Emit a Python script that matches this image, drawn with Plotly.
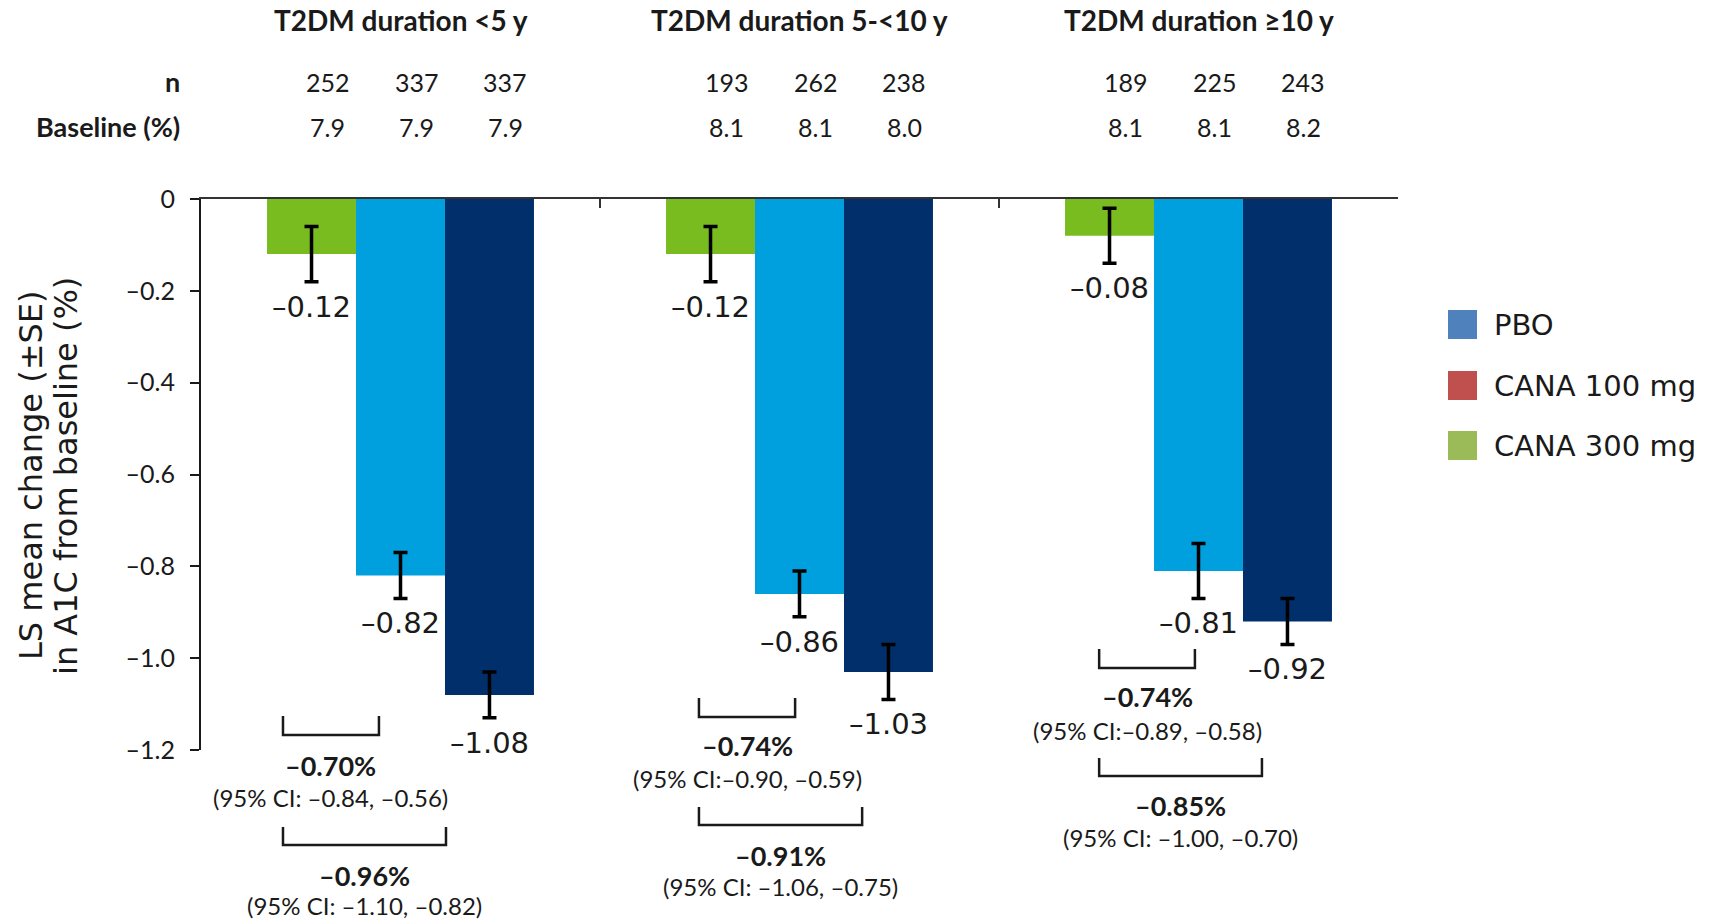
import plotly.graph_objects as go

# ---- data ---------------------------------------------------------------
groups = ["T2DM duration <5 y", "T2DM duration 5-<10 y", "T2DM duration \u226510 y"]
arms = ["PBO", "CANA 100 mg", "CANA 300 mg"]

pbo_change = [-0.12, -0.12, -0.08]
pbo_se = [0.06, 0.06, 0.06]
cana100_change = [-0.82, -0.86, -0.81]
cana100_se = [0.05, 0.05, 0.06]
cana300_change = [-1.08, -1.03, -0.92]
cana300_se = [0.05, 0.06, 0.05]

n_pbo = [252, 193, 189]
n_cana100 = [337, 262, 225]
n_cana300 = [337, 238, 243]
baseline_pbo = [7.9, 8.1, 8.1]
baseline_cana100 = [7.9, 8.1, 8.1]
baseline_cana300 = [7.9, 8.0, 8.2]

diff_cana100 = ["\u20130.70%", "\u20130.74%", "\u20130.74%"]
ci_cana100 = ["(95% CI: \u20130.84, \u20130.56)", "(95% CI:\u20130.90, \u20130.59)", "(95% CI:\u20130.89, \u20130.58)"]
diff_cana300 = ["\u20130.96%", "\u20130.91%", "\u20130.85%"]
ci_cana300 = ["(95% CI: \u20131.10, \u20130.82)", "(95% CI: \u20131.06, \u20130.75)", "(95% CI: \u20131.00, \u20130.70)"]

y_ticks = [0, -0.2, -0.4, -0.6, -0.8, -1.0, -1.2]
y_title_lines = ["LS mean change (\u00b1SE)", "in A1C from baseline (%)"]

# ---- styling ------------------------------------------------------------
bar_colors = ["#78BC20", "#00A0DF", "#002F6C"]
legend_colors = ["#4F81BD", "#C0504D", "#9BBB59"]
INK = "#1a1a1a"
VERDANA = "DejaVu Sans, Verdana, sans-serif"
CALIBRI = "Lato, Carlito, Calibri, sans-serif"

W, H = 1711, 922
ML, MR, MT, MB = 201, 313, 199, 172
BARGAP = 0.331
BAR_W = (1 - BARGAP) / 3


def px_x(px):
    return (px - ML) / (W - ML - MR)


def px_y(py):
    return (H - MB - py) / (H - MT - MB)


def dash(v, fmt="{:.2f}"):
    s = fmt.format(abs(v))
    return ("\u2013" + s) if v < 0 else s


def label(**kw):
    base = dict(showarrow=False, xanchor="center", yanchor="middle")
    base.update(kw)
    return base


x_idx = list(range(len(groups)))
series = [
    (pbo_change, pbo_se, n_pbo, baseline_pbo),
    (cana100_change, cana100_se, n_cana100, baseline_cana100),
    (cana300_change, cana300_se, n_cana300, baseline_cana300),
]

fig = go.Figure()
for k, (vals, se, _, _) in enumerate(series):
    fig.add_trace(go.Bar(
        x=x_idx, y=vals, name=arms[k], showlegend=False,
        marker=dict(color=bar_colors[k], line=dict(width=0)),
        error_y=dict(type="data", array=se, symmetric=True,
                     color="black", thickness=3.5, width=7),
    ))

annotations = []
shapes = []

# value labels under each error bar, plus n / baseline rows
for k, (vals, se, ns, bases) in enumerate(series):
    offset = (k - 1) * BAR_W
    for g in x_idx:
        annotations.append(label(
            x=g + offset, y=vals[g] - se[g], xref="x", yref="y",
            text=dash(vals[g]), yshift=-25,
            font=dict(family=VERDANA, size=29, color=INK)))
        annotations.append(label(
            x=g + offset, y=px_y(82), xref="x", yref="paper", xshift=16,
            text=str(ns[g]), font=dict(family=CALIBRI, size=25, color=INK)))
        annotations.append(label(
            x=g + offset, y=px_y(127), xref="x", yref="paper", xshift=16,
            text=f"{bases[g]:.1f}", font=dict(family=CALIBRI, size=25, color=INK)))

# group headers
for g, name in enumerate(groups):
    annotations.append(label(
        x=g, y=px_y(20), xref="x", yref="paper", text=f"<b>{name}</b>",
        font=dict(family=CALIBRI, size=28, color=INK)))

# row labels
for text, py in [("<b>n</b>", 82), ("<b>Baseline (%)</b>", 127)]:
    annotations.append(label(
        x=px_x(182), y=px_y(py), xref="paper", yref="paper", text=text,
        xanchor="right", font=dict(family=CALIBRI, size=27, color=INK)))

# comparison brackets vs placebo: (left, right100, right300) relative to group centre
bracket_x = [(-0.2945, -0.054, 0.114), (-0.252, -0.011, 0.157), (-0.249, -0.009, 0.159)]
# pixel rows: bracket top/bottom and text rows for the two comparisons
bracket_rows = [
    (716, 735, 765, 797, 827, 845, 875, 905),
    (698, 717, 745, 778, 807, 825, 855, 886),
    (649, 668, 696, 730, 758, 776, 805, 837),
]
for g in x_idx:
    lft, r1, r2 = bracket_x[g]
    t1, b1, d1, c1, t2, b2, d2, c2 = bracket_rows[g]
    for (right, top, bot, dtxt, dpy, ctxt, cpy) in [
        (r1, t1, b1, diff_cana100[g], d1, ci_cana100[g], c1),
        (r2, t2, b2, diff_cana300[g], d2, ci_cana300[g], c2),
    ]:
        x0, x1 = g + lft, g + right
        yt, yb = px_y(top), px_y(bot)
        shapes.append(dict(
            type="path", xref="x", yref="paper",
            path=f"M {x0} {yt} L {x0} {yb} L {x1} {yb} L {x1} {yt}",
            line=dict(color=INK, width=2.5)))
        xm = (x0 + x1) / 2
        annotations.append(label(
            x=xm, y=px_y(dpy), xref="x", yref="paper", text=f"<b>{dtxt}</b>",
            font=dict(family=CALIBRI, size=27, color=INK)))
        annotations.append(label(
            x=xm, y=px_y(cpy), xref="x", yref="paper", text=ctxt,
            font=dict(family=CALIBRI, size=24, color=INK)))

# legend keys
for k, (name, py) in enumerate(zip(arms, [324.5, 385.5, 445.5])):
    shapes.append(dict(
        type="rect", xref="paper", yref="paper",
        x0=px_x(1448), x1=px_x(1477), y0=px_y(py - 14.5), y1=px_y(py + 14.5),
        fillcolor=legend_colors[k], line=dict(width=0)))
    annotations.append(label(
        x=px_x(1492), y=px_y(py), xref="paper", yref="paper", text=name,
        xanchor="left", font=dict(family=VERDANA, size=29, color=INK)))

# y-axis title, one annotation per line
for line_text, px in zip(y_title_lines, [31, 66]):
    annotations.append(label(
        x=px_x(px), y=px_y(476), xref="paper", yref="paper",
        text=line_text, textangle=-90,
        font=dict(family=VERDANA, size=32, color=INK)))

fig.update_layout(
    width=W, height=H,
    margin=dict(l=ML, r=MR, t=MT, b=MB, pad=0),
    paper_bgcolor="white", plot_bgcolor="white",
    barmode="group", bargap=BARGAP, bargroupgap=0,
    showlegend=False,
    annotations=annotations, shapes=shapes,
    xaxis=dict(
        range=[-0.5, 2.5], side="top", showline=True, linecolor="#333",
        linewidth=2, ticks="inside", ticklen=9, tickwidth=2, tickcolor="#333",
        tickvals=[0.5, 1.5, 2.5], showticklabels=False, showgrid=False,
        zeroline=False,
    ),
    yaxis=dict(
        range=[-1.2, 0], showline=True, linecolor="#1a1a1a", linewidth=2,
        ticks="outside", ticklen=9, tickwidth=2, tickcolor="#1a1a1a",
        tickvals=y_ticks, ticktext=[dash(v, "{:.1f}") if v else "0" for v in y_ticks],
        tickfont=dict(family=CALIBRI, size=25, color=INK),
        ticklabelstandoff=10, showgrid=False, zeroline=False,
    ),
)

fig.write_html("out.html")
